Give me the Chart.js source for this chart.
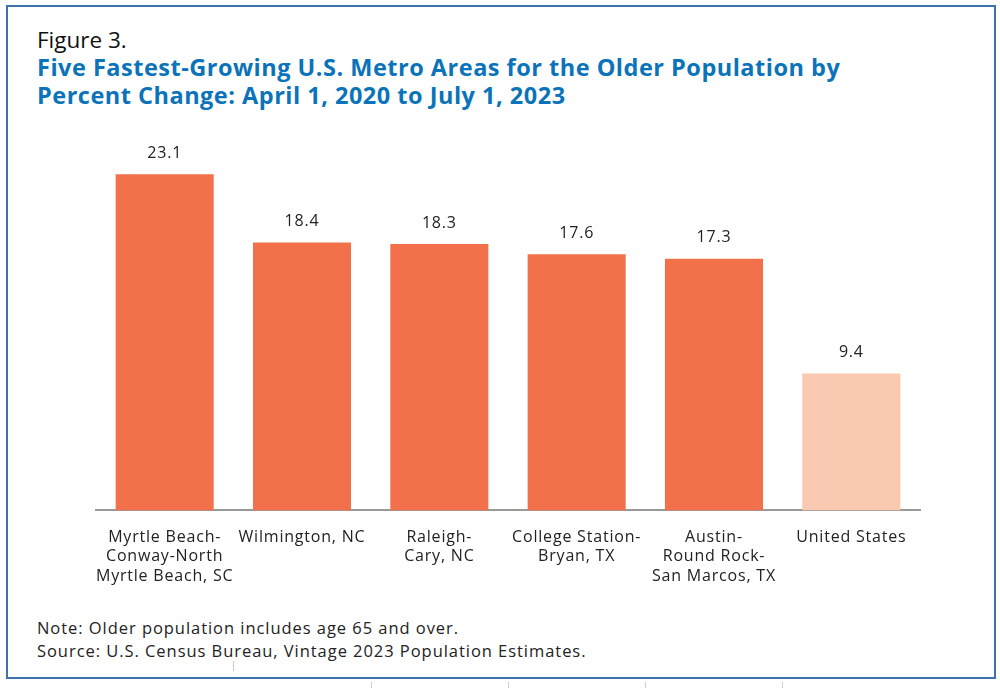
<!DOCTYPE html>
<html>
<head>
<meta charset="utf-8">
<script src="https://cdn.jsdelivr.net/npm/chart.js@4"></script>
<style>
  html, body { margin: 0; padding: 0; background: #fff; }
  body { width: 1000px; height: 688px; position: relative; overflow: hidden; font-family: "Open Sans", sans-serif; }
  .frame { position: absolute; left: 6px; top: 5px; width: 986px; height: 670px; border: 2px solid #3f72a8; }
  .fig { position: absolute; left: 37px; top: 25px; font-size: 22.5px; line-height: 30px; color: #111; }
  .title { position: absolute; left: 37px; top: 53px; font-size: 23.5px; letter-spacing: 0.5px; font-weight: 700; color: #0b73b9; line-height: 28px; }
  .notes { position: absolute; left: 37px; top: 616px; font-size: 16.5px; letter-spacing: 0.95px; color: #222; line-height: 23px; }
  .wrap { position: absolute; left: 80px; top: 132px; width: 860px; height: 463px; }
  .tick { position: absolute; width: 1px; background: #ccc; }
</style>
</head>
<body>
<div class="frame"></div>
<div class="fig">Figure 3.</div>
<div class="title">Five Fastest-Growing U.S. Metro Areas for the Older Population by<br>Percent Change: April 1, 2020 to July 1, 2023</div>
<div class="wrap"><canvas id="growthChart"></canvas></div>
<div class="notes">Note: Older population includes age 65 and over.<br>Source: U.S. Census Bureau, Vintage 2023 Population Estimates.</div>
<div class="tick" style="left:233px;top:661px;height:10px"></div>
<div class="tick" style="left:371px;top:682px;height:6px"></div>
<div class="tick" style="left:508px;top:682px;height:6px"></div>
<div class="tick" style="left:645px;top:682px;height:6px"></div>
<div class="tick" style="left:782px;top:682px;height:6px"></div>
<script>
const areaLabels = [
    ['Myrtle Beach-', 'Conway-North', 'Myrtle Beach, SC'],
    'Wilmington, NC',
    ['Raleigh-', 'Cary, NC'],
    ['College Station-', 'Bryan, TX'],
    ['Austin-', 'Round Rock-', 'San Marcos, TX'],
    'United States'
];
const percentChange = [23.1, 18.4, 18.3, 17.6, 17.3, 9.4];
const barColors = ['#f2714a', '#f2714a', '#f2714a', '#f2714a', '#f2714a', '#f9c9b1'];

const TEXT_SPACING = '0.8px';

// wider text, closer to the original typeface
const letterSpacing = {
    id: 'letterSpacing',
    beforeLayout(chart) { chart.ctx.letterSpacing = TEXT_SPACING; },
    beforeDraw(chart) { chart.ctx.letterSpacing = TEXT_SPACING; }
};

// draws the value above each bar
const valueLabels = {
    id: 'valueLabels',
    afterDatasetsDraw(chart) {
        const ctx = chart.ctx;
        const meta = chart.getDatasetMeta(0);
        ctx.save();
        ctx.letterSpacing = TEXT_SPACING;
        ctx.font = '16px "Open Sans", sans-serif';
        ctx.fillStyle = '#222';
        ctx.textAlign = 'center';
        ctx.textBaseline = 'middle';
        meta.data.forEach((bar, i) => {
            ctx.fillText(percentChange[i].toFixed(1), bar.x, bar.y - 21);
        });
        ctx.restore();
    }
};

new Chart(document.getElementById('growthChart'), {
    type: 'bar',
    data: {
        labels: areaLabels,
        datasets: [{
            data: percentChange,
            backgroundColor: barColors,
            categoryPercentage: 1,
            barPercentage: 0.714
        }]
    },
    options: {
        responsive: true,
        maintainAspectRatio: false,
        animation: false,
        layout: { padding: { left: 16, right: 20, top: 0, bottom: 0 } },
        plugins: {
            legend: { display: false },
            tooltip: { enabled: false }
        },
        scales: {
            x: {
                grid: { display: false },
                border: { display: true, color: '#999', width: 2 },
                afterFit(scale) {
                    scale.paddingLeft = 0;
                    scale.paddingRight = 0;
                },
                ticks: {
                    color: '#222',
                    padding: 9,
                    maxRotation: 0,
                    autoSkip: false,
                    font: { family: '"Open Sans", sans-serif', size: 16, lineHeight: 1.22 }
                }
            },
            y: {
                display: false,
                min: 0,
                max: 26
            }
        }
    },
    plugins: [letterSpacing, valueLabels]
});
</script>
</body>
</html>
